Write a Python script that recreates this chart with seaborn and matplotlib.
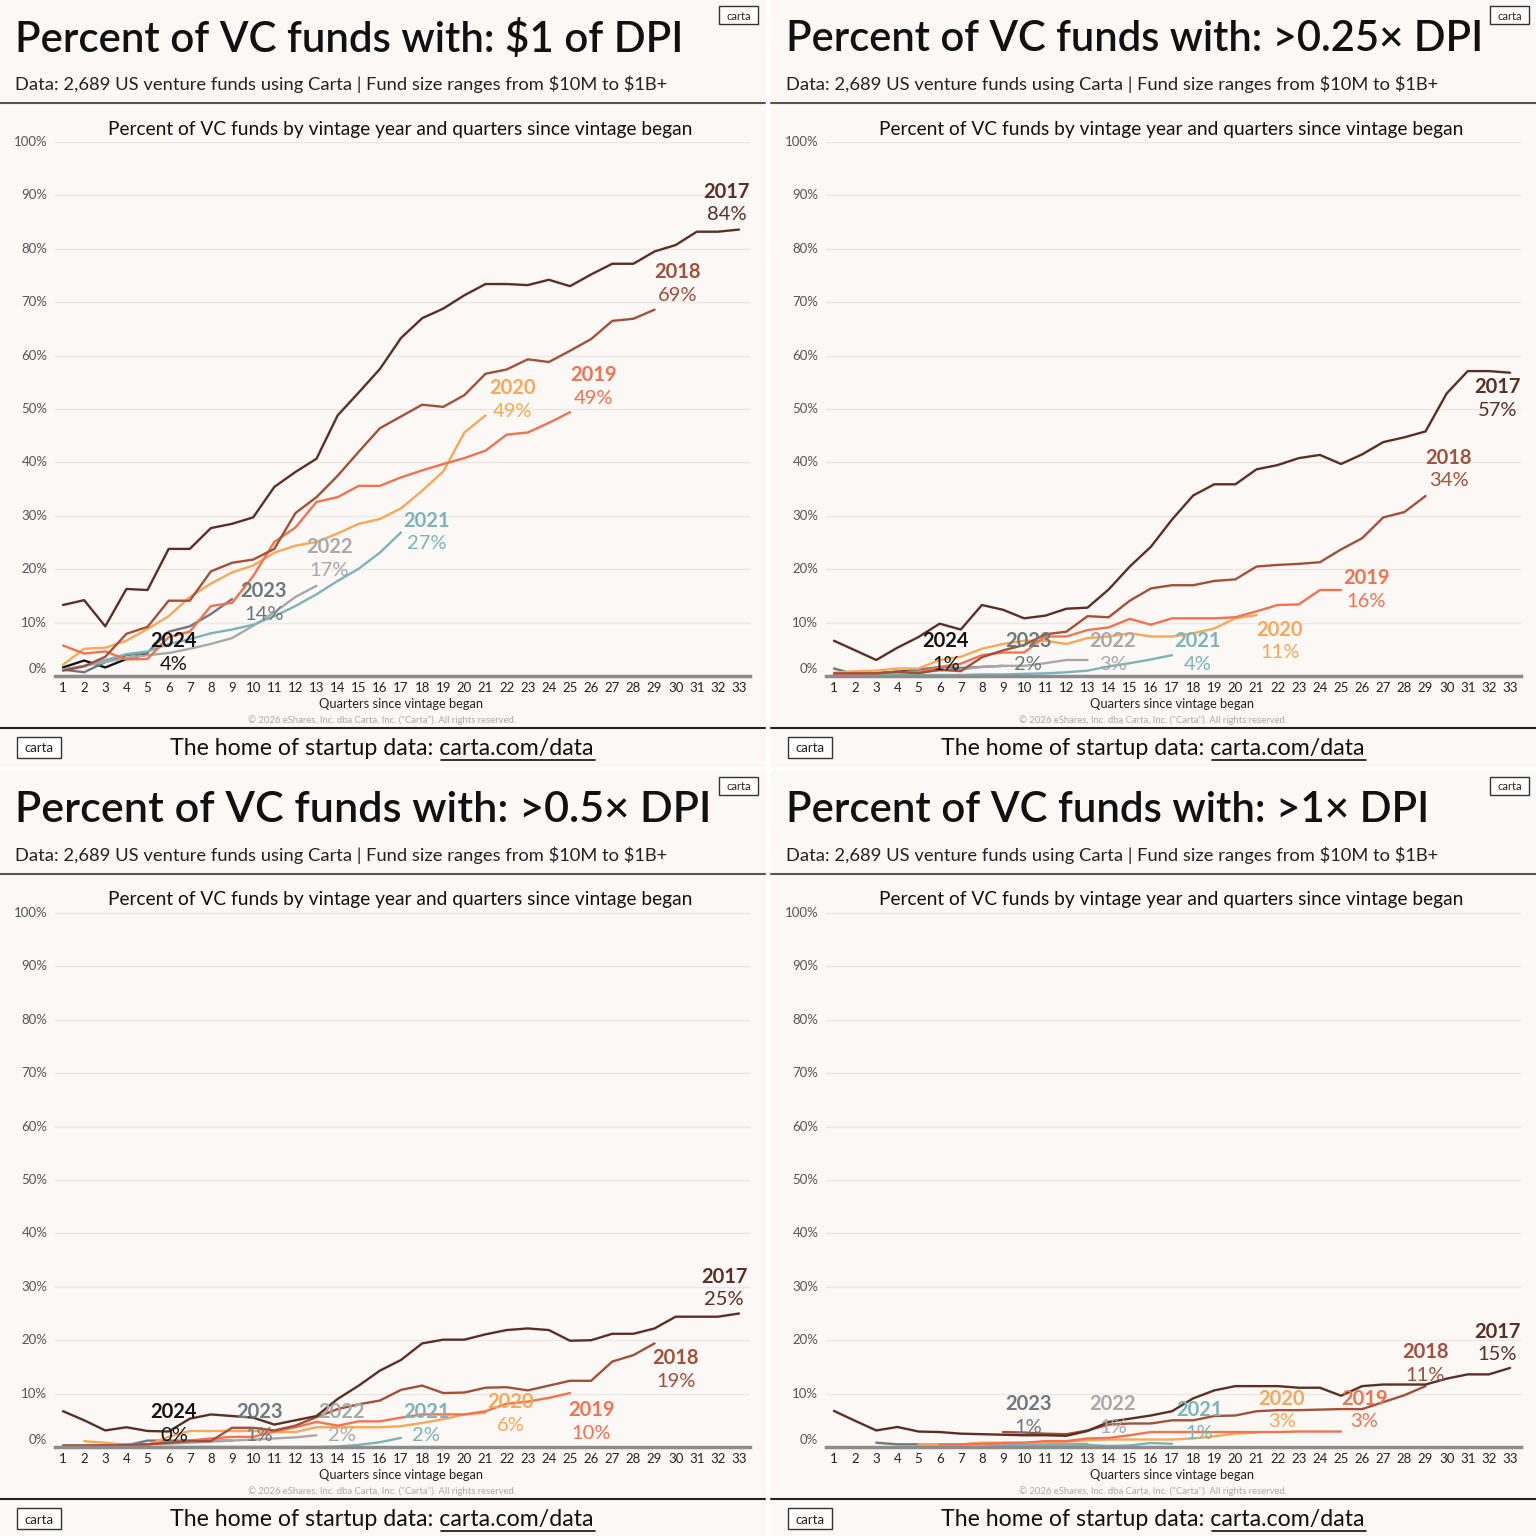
import numpy as np
import pandas as pd
import matplotlib
matplotlib.use('Agg')
import matplotlib.pyplot as plt
import matplotlib.transforms as mtransforms
from matplotlib.patches import Rectangle
from matplotlib.lines import Line2D
import seaborn as sns

nan = np.nan

# Data ------------------------------------------------------------------------

vintages = ['2017', '2018', '2019', '2020', '2021', '2022', '2023', '2024']
quarters = list(range(1, 34))

# Panel 1: $1 of DPI
p1_2017 = [13.3, 14.2, 9.3, 16.3, 16.1, 23.8, 23.8, 27.7, 28.5, 29.7, 35.4, 38.2, 40.7, 48.8, 53.1, 57.5,
           63.3, 67.0, 68.8, 71.3, 73.4, 73.4, 73.2, 74.2, 73.0, 75.2, 77.2, 77.2, 79.5, 80.7, 83.2, 83.2, 83.6]
p1_2018 = [1.0, 1.8, 3.6, 7.9, 9.2, 14.1, 14.1, 19.6, 21.2, 21.8, 23.8, 30.5, 33.5, 37.5, 42.0, 46.4,
           48.6, 50.8, 50.4, 52.6, 56.6, 57.4, 59.3, 58.8, 60.9, 63.1, 66.5, 66.9, 68.6]
p1_2019 = [5.7, 4.2, 4.6, 3.1, 3.2, 7.3, 8.3, 13.1, 13.7, 18.7, 25.1, 27.8, 32.6, 33.5, 35.6, 35.6,
           37.2, 38.5, 39.7, 40.8, 42.2, 45.2, 45.6, 47.4, 49.4]
p1_2020 = [2.1, 5.1, 5.3, 6.6, 8.8, 11.2, 14.8, 17.3, 19.4, 20.7, 23.1, 24.4, 25.1, 26.7, 28.5, 29.4,
           31.4, 34.7, 38.3, 45.6, 48.8]
p1_2021 = [1.2, 1.9, 3.0, 4.1, 4.6, 6.0, 6.9, 8.0, 8.7, 9.6, 11.2, 13.1, 15.3, 17.8, 20.1, 23.1, 26.9]
p1_2022 = [1.2, 1.9, 2.6, 3.4, 3.9, 4.3, 5.1, 6.0, 7.1, 9.4, 11.9, 14.8, 16.9]
p1_2023 = [1.2, 0.7, 2.6, 3.9, 4.4, 8.3, 9.3, 11.6, 14.4]
p1_2024 = [1.6, 2.9, 1.6, 3.2, 4.1]

# Panel 2: >0.25x DPI
p2_2017 = [6.6, 4.8, 3.0, 5.3, 7.3, 9.8, 8.7, 13.3, 12.4, 10.8, 11.3, 12.6, 12.8, 16.2, 20.5, 24.2,
           29.3, 33.8, 35.9, 35.9, 38.7, 39.5, 40.8, 41.4, 39.7, 41.5, 43.8, 44.7, 45.8, 52.9, 57.1, 57.1, 56.8]
p2_2018 = [0.5, 0.5, 0.5, 0.8, 0.5, 1.2, 0.9, 3.5, 4.8, 5.8, 7.8, 8.3, 11.2, 11.0, 14.1, 16.4,
           17.0, 17.0, 17.8, 18.1, 20.5, 20.8, 21.0, 21.3, 23.7, 25.8, 29.7, 30.7, 33.7]
p2_2019 = [0.3, 0.3, 0.5, 0.8, 0.7, 1.7, 2.3, 3.9, 4.4, 4.4, 7.4, 7.4, 8.6, 9.1, 10.7, 9.6,
           10.8, 10.8, 10.8, 11.0, 12.1, 13.3, 13.4, 16.1, 16.1]
p2_2020 = [0.6, 0.9, 1.0, 1.4, 1.4, 3.0, 3.6, 5.1, 6.0, 6.6, 6.6, 6.0, 7.1, 7.4, 8.0, 7.4,
           7.4, 8.0, 8.9, 10.8, 11.4]
p2_2021 = [0.1, 0.1, 0.1, 0.2, 0.2, 0.2, 0.2, 0.3, 0.3, 0.4, 0.5, 0.7, 1.0, 1.8, 2.4, 3.1, 3.9]
p2_2022 = [0.3, 0.4, 0.5, 0.6, 0.8, 1.0, 1.2, 1.7, 1.9, 1.9, 2.4, 3.0, 3.0]
p2_2023 = [1.4, 0.3, 0.3, 0.5, 1.2, 1.7, 1.5, 1.7, 1.9]
p2_2024 = [0.3, 0.4, 0.5, 0.8, 1.1]

# Panel 3: >0.5x DPI
p3_2017 = [6.7, 5.0, 3.1, 3.7, 3.0, 2.9, 5.3, 6.1, 5.8, 5.5, 4.2, 5.0, 5.8, 9.0, 11.5, 14.3,
           16.3, 19.4, 20.1, 20.1, 21.1, 21.9, 22.2, 21.9, 19.9, 20.0, 21.2, 21.2, 22.2, 24.4, 24.4, 24.4, 25.0]
p3_2018 = [0.3, 0.3, 0.3, 0.4, 0.5, 0.8, 1.1, 1.1, 3.6, 3.6, 3.1, 4.0, 5.6, 7.1, 8.0, 8.7,
           10.7, 11.5, 10.1, 10.2, 11.1, 11.2, 10.6, 11.5, 12.4, 12.4, 16.0, 17.2, 19.4]
p3_2019 = [0.2, 0.2, 0.3, 0.4, 0.5, 0.8, 1.2, 1.6, 1.9, 1.9, 2.9, 3.7, 4.7, 4.0, 4.8, 4.8,
           5.5, 6.1, 6.1, 6.1, 6.7, 8.1, 8.5, 9.2, 10.1]
p3_2020 = [nan, 1.1, 0.8, 0.4, 0.4, 1.9, 3.0, 3.0, 3.0, 3.0, 2.8, 2.8, 3.7, 3.7, 3.7, 3.7,
           3.9, 4.5, 5.2, 6.1, 6.4]
p3_2021 = [0.0, 0.0, 0.0, 0.0, 0.0, 0.0, 0.0, 0.0, 0.0, 0.0, 0.0, 0.0, 0.0, 0.1, 0.4, 0.9, 1.7]
p3_2022 = [0.0, 0.0, 0.3, 0.4, 0.5, 0.6, 0.8, 1.0, 1.2, 1.4, 1.6, 1.8, 2.2]
p3_2023 = [0.0, 0.0, 0.4, 0.3, 1.2, 1.2, 1.2, 1.2, 1.2]
p3_2024 = [0.0, 0.0, 0.0, 0.0, 0.2]

# Panel 4: >1x DPI
p4_2017 = [6.75, 4.9, 3.1, 3.75, 2.9, 2.8, 2.5, 2.4, 2.3, 2.2, 2.2, 2.1, 3.0, 4.7, 5.3, 5.9,
           6.7, 9.1, 10.6, 11.4, 11.4, 11.4, 11.1, 11.1, 9.6, 11.4, 11.7, 11.7, 11.7, 12.8, 13.6, 13.6, 14.8]
p4_2018 = [nan, nan, nan, nan, nan, nan, nan, nan, 2.8, 2.7, 2.5, 2.4, 3.1, 4.2, 4.4, 4.4,
           5.0, 5.0, 5.8, 5.9, 6.7, 6.9, 6.9, 7.0, 7.1, 7.1, 8.4, 9.7, 11.4]
p4_2019 = [nan, nan, nan, nan, nan, 0.5, 0.5, 0.6, 0.75, 0.8, 1.1, 1.1, 1.6, 1.7, 2.2, 2.8,
           2.8, 2.8, 2.8, 2.8, 2.8, 2.8, 2.9, 2.9, 2.9]
p4_2020 = [nan, nan, nan, nan, 0.5, 0.5, 0.5, 0.8, 0.8, 0.8, 0.9, 1.0, 1.25, 1.4, 1.4, 1.4,
           1.4, 1.6, 2.0, 2.5, 2.7]
p4_2021 = [nan, nan, nan, nan, 0.1, 0.1, 0.1, 0.1, 0.2, 0.3, 0.4, 0.4, 0.4, 0.2, 0.3, 0.75, 0.6]
p4_2022 = [nan, nan, nan, nan, nan, nan, nan, nan, 0.4, 0.5, 0.5, 0.6, 0.6]
p4_2023 = [nan, nan, 0.8, 0.5, 0.5, 0.5, 0.5, 0.6, 0.7]
p4_2024 = [nan, nan, nan, nan, nan]

panel_series = [
    [p1_2017, p1_2018, p1_2019, p1_2020, p1_2021, p1_2022, p1_2023, p1_2024],
    [p2_2017, p2_2018, p2_2019, p2_2020, p2_2021, p2_2022, p2_2023, p2_2024],
    [p3_2017, p3_2018, p3_2019, p3_2020, p3_2021, p3_2022, p3_2023, p3_2024],
    [p4_2017, p4_2018, p4_2019, p4_2020, p4_2021, p4_2022, p4_2023, p4_2024],
]

panel_titles = ['Percent of VC funds with: \\$1 of DPI',
                'Percent of VC funds with: >0.25\u00d7 DPI',
                'Percent of VC funds with: >0.5\u00d7 DPI',
                'Percent of VC funds with: >1\u00d7 DPI']
subtitle = 'Data: 2,689 US venture funds using Carta | Fund size ranges from \\$10M to \\$1B+'

# Layout / style ----------------------------------------------------------------

palette = {'2017': '#5C2F23', '2018': '#A2503A', '2019': '#F2734F', '2020': '#F8A858',
           '2021': '#7DB3B6', '2022': '#A8A8A8', '2023': '#6E797C', '2024': '#141414'}

# year-label centre (quarter, percent) for each panel
label_pos = [
    {'2017': (32.4, 90.7), '2018': (30.1, 75.6), '2019': (26.1, 56.3), '2020': (22.3, 53.9),
     '2021': (18.2, 29.1), '2022': (13.6, 24.1), '2023': (10.5, 15.9), '2024': (6.25, 6.5)},
    {'2017': (32.4, 54.1), '2018': (30.1, 40.9), '2019': (26.2, 18.3), '2020': (22.1, 8.6),
     '2021': (18.2, 6.5), '2022': (14.2, 6.5), '2023': (10.2, 6.5), '2024': (6.3, 6.5)},
    {'2017': (32.3, 31.9), '2018': (30.0, 16.6), '2019': (26.0, 6.9), '2020': (22.2, 8.4),
     '2021': (18.2, 6.5), '2022': (14.2, 6.5), '2023': (10.3, 6.5), '2024': (6.25, 6.5)},
    {'2017': (32.4, 21.6), '2018': (29.0, 17.7), '2019': (26.1, 9.0), '2020': (22.2, 9.0),
     '2021': (18.3, 6.9), '2022': (14.2, 8.0), '2023': (10.2, 8.0)},
]

title_widths = [668, 698, 696, 643]
origins = [(0, 0), (771, 0), (0, 771), (771, 771)]

sns.set_style('white')
plt.rcParams['font.family'] = ['Lato', 'DejaVu Sans']

W, H = 1536, 1536
BG = '#FBF8F6'
fig = plt.figure(figsize=(W / 100, H / 100), dpi=100, facecolor='white')
renderer = fig.canvas.get_renderer()


def fx(x):
    return x / W


def fy(y):
    return 1 - y / H


def put(x, y, s, size, width=None, **kw):
    t = fig.text(fx(x), fy(y), s, fontsize=size, **kw)
    if width:
        w = t.get_window_extent(renderer).width
        t.set_fontsize(size * width / w)
    return t


def hline(x0, x1, y, color, lw):
    fig.add_artist(Line2D([fx(x0), fx(x1)], [fy(y), fy(y)], transform=fig.transFigure,
                          color=color, lw=lw))


def box(x0, y0, x1, y1, size):
    fig.add_artist(Rectangle((fx(x0), fy(y1)), (x1 - x0) / W, (y1 - y0) / H,
                             transform=fig.transFigure, facecolor='white',
                             edgecolor='#333333', lw=1))
    fig.text(fx((x0 + x1) / 2), fy((y0 + y1) / 2 + 1), 'carta', fontsize=size,
             ha='center', va='center', color='#222222')


for i, (ox, oy) in enumerate(origins):
    fig.add_artist(Rectangle((fx(ox), fy(oy + 766)), 765 / W, 766 / H,
                             transform=fig.transFigure, color=BG, zorder=0))

    put(ox + 15, oy + 39, panel_titles[i], 32, width=title_widths[i],
        ha='left', va='center', color='#111111', fontweight='semibold')
    put(ox + 15, oy + 84, subtitle, 13, width=648, ha='left', va='center', color='#222222')
    hline(ox, ox + 765, oy + 103, '#555555', 1.5)
    put(ox + 400, oy + 129, 'Percent of VC funds by vintage year and quarters since vintage began',
        13, width=583, ha='center', va='center', color='#111111')

    # chart
    ax = fig.add_axes([fx(ox + 55), fy(oy + 676), 695 / W, 534 / H])
    ax.set_facecolor('none')

    rows = []
    for vintage, values in zip(vintages, panel_series[i]):
        for q, v in zip(quarters, values):
            rows.append((vintage, q, v))
    df = pd.DataFrame(rows, columns=['vintage', 'quarter', 'pct']).dropna()

    sns.lineplot(data=df, x='quarter', y='pct', hue='vintage', hue_order=vintages[::-1],
                 palette=palette, estimator=None, linewidth=1.7, legend=False, ax=ax)

    ax.set_xlim(0.62, 33.52)
    ax.set_ylim(0, 100)
    ax.set_xlabel('')
    ax.set_ylabel('')
    ax.set_xticks(quarters)
    ax.set_xticklabels([str(q) for q in quarters], fontsize=9.5, color='#222222')
    ax.set_yticks(range(0, 101, 10))
    ax.set_yticklabels([])
    ax.tick_params(length=0, pad=4)
    ax.yaxis.grid(True, color='#ECE7E4', lw=1)
    ax.set_axisbelow(True)
    for side in ['top', 'left', 'right']:
        ax.spines[side].set_visible(False)
    ax.spines['bottom'].set_color('#8C8C8C')
    ax.spines['bottom'].set_linewidth(2.5)

    ytrans = ax.get_yaxis_transform()
    for v in range(0, 101, 10):
        ax.text(-0.011, v if v else 1.3, f'{v}%', transform=ytrans, ha='right', va='center',
                fontsize=9.5, color='#555555')

    below = mtransforms.offset_copy(ax.transData, fig=fig, y=-16.5, units='points')
    for vintage, values in zip(vintages, panel_series[i]):
        if vintage not in label_pos[i]:
            continue
        q, v = label_pos[i][vintage]
        last = [x for x in values if not np.isnan(x)][-1]
        ax.text(q, v, vintage, ha='center', va='center', fontsize=14.5, fontweight='bold',
                color=palette[vintage], zorder=5)
        ax.text(q, v, f'{round(last):.0f}%', transform=below, ha='center', va='center',
                fontsize=14.5, color=palette[vintage], zorder=5)

    put(ox + 401, oy + 704, 'Quarters since vintage began', 9, width=166,
        ha='center', va='center', color='#222222')
    put(ox + 382, oy + 720, '\u00a9 2026 eShares, Inc. dba Carta, Inc. ("Carta"). All rights reserved.',
        5.5, width=268, ha='center', va='center', color='#AAAAAA')
    hline(ox, ox + 765, oy + 728, '#222222', 1.5)

    # footer
    foot = put(ox + 170, oy + 748, 'The home of startup data: carta.com/data', 16, width=425,
               ha='left', va='center', color='#111111')
    probe = fig.text(0, 0, 'carta.com/data', fontsize=foot.get_fontsize())
    wlink = probe.get_window_extent(renderer).width
    probe.remove()
    hline(ox + 595 - wlink, ox + 595, oy + 760, '#111111', 1.2)

    box(ox + 17, oy + 737, ox + 61, oy + 758, 9.5)
    box(ox + 719, oy + 6, ox + 758, oy + 24, 8)

fig.savefig('out.png', dpi=100, facecolor='white')
